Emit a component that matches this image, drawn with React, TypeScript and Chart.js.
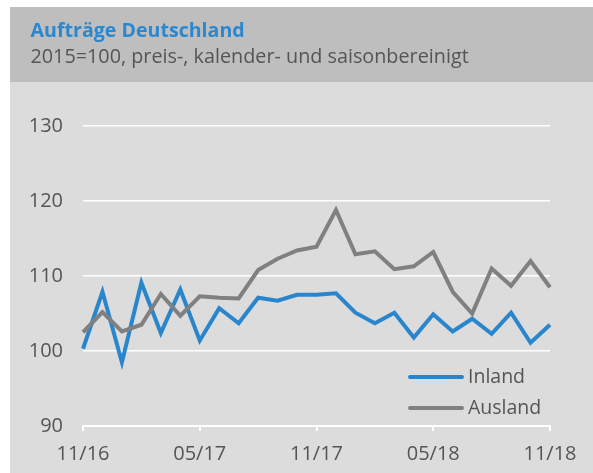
import React, { useEffect, useRef } from "react";
import { Chart, registerables } from "chart.js";

Chart.register(...registerables);

const TITLE = "Aufträge Deutschland";
const SUBTITLE = "2015=100, preis-, kalender- und saisonbereinigt";

const MONTHS = [
  "11/16", "12/16", "01/17", "02/17", "03/17", "04/17", "05/17", "06/17", "07/17",
  "08/17", "09/17", "10/17", "11/17", "12/17", "01/18", "02/18", "03/18", "04/18",
  "05/18", "06/18", "07/18", "08/18", "09/18", "10/18", "11/18",
];

const INLAND = [
  100.3, 107.9, 98.5, 109.1, 102.4, 108.2, 101.4, 105.7, 103.7, 107.1, 106.7, 107.5,
  107.5, 107.7, 105.1, 103.7, 105.1, 101.8, 104.9, 102.6, 104.3, 102.3, 105.1, 101.1, 103.5,
];

const AUSLAND = [
  102.5, 105.2, 102.6, 103.5, 107.6, 104.7, 107.3, 107.1, 107.0, 110.8, 112.3, 113.4,
  113.9, 118.8, 112.9, 113.3, 110.9, 111.3, 113.2, 107.9, 105.0, 111.0, 108.7, 112.0, 108.5,
];

const SERIES_NAMES = ["Inland", "Ausland"];
const Y_MIN = 90;
const Y_MAX = 130;
const Y_STEP = 10;
const TICK_EVERY = 6;

const BLUE = "#2a86cc";
const GRAY = "#808080";
const FONT = "'Open Sans', 'Noto Sans', sans-serif";

const backgroundPlugin = {
  id: "bgHeader",
  beforeDraw(chart: any) {
    const { ctx, width, height } = chart;
    ctx.save();
    ctx.fillStyle = "#dcdcdc";
    ctx.fillRect(0, 0, width, height);
    ctx.fillStyle = "#bebebe";
    ctx.fillRect(0, 0, width, 75);
    ctx.textAlign = "left";
    ctx.textBaseline = "alphabetic";
    ctx.fillStyle = "#2a88d0";
    ctx.font = `bold 19.6px ${FONT}`;
    ctx.fillText(TITLE, 20.5, 29.8);
    ctx.fillStyle = "#555555";
    ctx.font = `19.8px ${FONT}`;
    ctx.fillText(SUBTITLE, 20.5, 56.4);
    ctx.restore();
  },
};

const legendPlugin = {
  id: "insideLegend",
  afterDraw(chart: any) {
    const { ctx, chartArea } = chart;
    const rows = [chartArea.bottom - 49, chartArea.bottom - 18];
    ctx.save();
    chart.data.datasets.forEach((ds: any) => {
      const idx = SERIES_NAMES.indexOf(ds.label);
      const y = rows[idx];
      ctx.strokeStyle = ds.borderColor;
      ctx.lineWidth = 4;
      ctx.lineCap = "round";
      ctx.beginPath();
      ctx.moveTo(chartArea.right - 140, y);
      ctx.lineTo(chartArea.right - 88, y);
      ctx.stroke();
      ctx.fillStyle = "#555555";
      ctx.font = `19.5px ${FONT}`;
      ctx.textAlign = "left";
      ctx.textBaseline = "middle";
      ctx.fillText(ds.label, chartArea.right - 82, y);
    });
    ctx.restore();
  },
};

export default function App() {
  const ref = useRef<HTMLCanvasElement | null>(null);

  useEffect(() => {
    if (!ref.current) return;
    const chart = new Chart(ref.current, {
      type: "line",
      data: {
        labels: MONTHS,
        datasets: [
          {
            label: SERIES_NAMES[0],
            data: INLAND,
            borderColor: BLUE,
            backgroundColor: BLUE,
            borderWidth: 4,
            pointRadius: 0,
            tension: 0,
            order: 1,
          },
          {
            label: SERIES_NAMES[1],
            data: AUSLAND,
            borderColor: GRAY,
            backgroundColor: GRAY,
            borderWidth: 4,
            pointRadius: 0,
            tension: 0,
            order: 0,
          },
        ],
      },
      options: {
        animation: false,
        responsive: false,
        devicePixelRatio: 1,
        layout: { padding: { top: 119, right: 43, bottom: 7, left: 0 } },
        plugins: {
          legend: { display: false },
          title: { display: false },
          tooltip: { enabled: false },
        },
        scales: {
          x: {
            type: "category",
            offset: false,
            afterFit: (s: any) => {
              s.height = 40;
            },
            border: { display: true, color: "#ffffff", width: 2 },
            grid: {
              display: true,
              drawOnChartArea: false,
              drawTicks: true,
              tickLength: 5,
              lineWidth: 2,
              color: (c: any) => (c.index % TICK_EVERY === 0 ? "#ffffff" : "rgba(0,0,0,0)"),
            },
            ticks: {
              autoSkip: false,
              maxRotation: 0,
              padding: 11,
              color: "#555555",
              font: { family: FONT, size: 20 },
              callback: (_v: any, i: number) => (i % TICK_EVERY === 0 ? MONTHS[i] : ""),
            },
          },
          y: {
            min: Y_MIN,
            max: Y_MAX,
            afterFit: (s: any) => {
              s.width = 73;
            },
            border: { display: false },
            grid: { color: "#ffffff", lineWidth: 1.6, drawTicks: false },
            ticks: {
              stepSize: Y_STEP,
              padding: 20,
              color: "#555555",
              font: { family: FONT, size: 20 },
            },
          },
        },
      },
      plugins: [backgroundPlugin, legendPlugin],
    });
    return () => chart.destroy();
  }, []);

  return (
    <div style={{ position: "absolute", left: 10, top: 7, width: 583, height: 466 }}>
      <canvas ref={ref} width={583} height={466} style={{ display: "block", width: 583, height: 466 }} />
    </div>
  );
}
